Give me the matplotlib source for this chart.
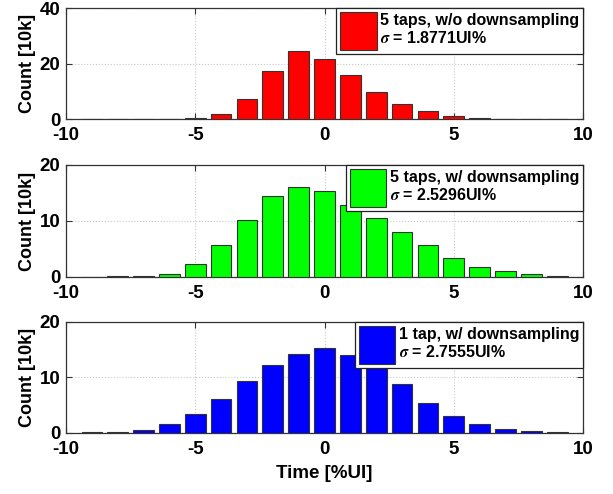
import numpy as np
import matplotlib.pyplot as plt

plt.rcParams['font.family'] = ['Liberation Sans', 'DejaVu Sans']
plt.rcParams['font.weight'] = 'bold'
plt.rcParams['mathtext.fontset'] = 'stix'
plt.rcParams['axes.unicode_minus'] = False

# histogram bins [%UI] and counts [10k]
bins = np.arange(-9, 10)
counts_5tap_nods = [0.05, 0.05, 0.05, 0.1, 0.3, 1.7, 7.1, 17.3, 24.4, 21.6,
                    15.8, 9.6, 5.4, 2.9, 1.2, 0.5, 0.05, 0.0, 0.0]
counts_5tap_ds = [0.05, 0.1, 0.25, 0.6, 2.4, 5.8, 10.1, 14.4, 16.0, 15.3,
                  12.8, 10.5, 8.1, 5.8, 3.4, 1.8, 1.0, 0.6, 0.25]
counts_1tap_ds = [0.1, 0.25, 0.6, 1.6, 3.4, 6.1, 9.4, 12.2, 14.2, 15.4,
                  14.0, 11.7, 8.75, 5.4, 3.1, 1.7, 0.8, 0.35, 0.1]

labels = ['5 taps, w/o downsampling', '5 taps, w/ downsampling', '1 tap, w/ downsampling']
sigmas = ['1.8771', '2.5296', '2.7555']
colors = ['#ff0000', '#00ff00', '#0000ff']
ylims = [40, 20, 20]
yticks = [[0, 20, 40], [0, 10, 20], [0, 10, 20]]

fig = plt.figure(figsize=(6.13, 4.94), dpi=100)
positions = [[0.1077, 0.759, 0.8434, 0.2247],
             [0.1077, 0.4393, 0.8434, 0.2267],
             [0.1077, 0.1235, 0.8434, 0.2247]]
data = [counts_5tap_nods, counts_5tap_ds, counts_1tap_ds]

for i in range(3):
    ax = fig.add_axes(positions[i])
    ax.bar(bins, data[i], width=0.8, color=colors[i], edgecolor='#333333',
           linewidth=0.8, label=labels[i] + '\n$\\sigma$ = ' + sigmas[i] + 'UI%', zorder=3)
    ax.set_xlim(-10, 10)
    ax.set_ylim(0, ylims[i])
    ax.set_xticks([-10, -5, 0, 5, 10])
    ax.set_yticks(yticks[i])
    ax.tick_params(direction='in', top=True, right=True, labelsize=13.5,
                   length=4, width=0.8, color='#333333')
    ax.tick_params(axis='x', pad=6)
    ax.tick_params(axis='y', pad=4)
    ax.grid(True, linestyle=':', color='#c8c8c8', linewidth=0.8, zorder=0)
    for s in ax.spines.values():
        s.set_color('#333333')
        s.set_linewidth(0.9)
    ax.set_ylabel('Count [10k]', fontsize=13, fontweight='bold', labelpad=3)
    leg = ax.legend(loc='upper right', bbox_to_anchor=(1, 1), borderaxespad=0,
                    fancybox=False, framealpha=1, edgecolor='#222222',
                    prop={'size': 11.5, 'weight': 'bold'},
                    handlelength=2.3, handleheight=3.3, handletextpad=0.2,
                    borderpad=0.25)
    leg.get_frame().set_linewidth(0.9)
    if i == 2:
        ax.set_xlabel('Time [%UI]', fontsize=13.5, fontweight='bold', labelpad=5)

fig.savefig('out.png', dpi=100)
